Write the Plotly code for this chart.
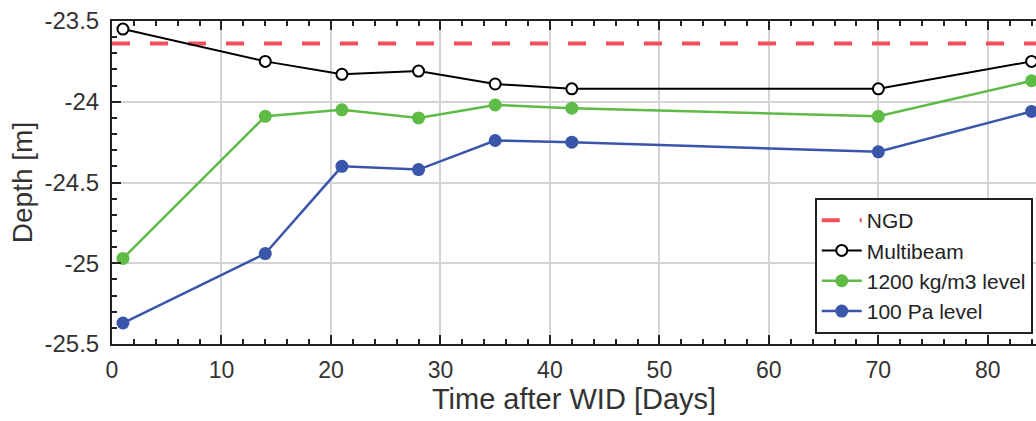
import plotly.graph_objects as go

days = [1, 14, 21, 28, 35, 42, 70, 84]
multibeam = [-23.55, -23.75, -23.83, -23.81, -23.89, -23.92, -23.92, -23.75]
level_1200 = [-24.97, -24.09, -24.05, -24.10, -24.02, -24.04, -24.09, -23.87]
level_100pa = [-25.37, -24.94, -24.40, -24.42, -24.24, -24.25, -24.31, -24.06]
ngd_depth = -23.64
x_range = [0, 84.4]
y_ticks = [-25.5, -25, -24.5, -24, -23.5]
y_tick_labels = ["-25.5", "-25", "-24.5", "-24", "-23.5"]

font_family = "Liberation Sans, Arial, sans-serif"

fig = go.Figure()
fig.add_trace(go.Scatter(
    x=x_range, y=[ngd_depth, ngd_depth], mode="lines", name="NGD",
    line=dict(color="#f0505a", width=4, dash="18px,20px"),
))
fig.add_trace(go.Scatter(
    x=days, y=multibeam, mode="lines+markers", name="Multibeam",
    line=dict(color="black", width=2),
    marker=dict(symbol="circle", size=11, color="white", line=dict(color="black", width=2)),
    cliponaxis=False,
))
fig.add_trace(go.Scatter(
    x=days, y=level_1200, mode="lines+markers", name="1200 kg/m3 level",
    line=dict(color="#5dbb46", width=2.5),
    marker=dict(symbol="circle", size=13, color="#5dbb46"),
    cliponaxis=False,
))
fig.add_trace(go.Scatter(
    x=days, y=level_100pa, mode="lines+markers", name="100 Pa level",
    line=dict(color="#3a56aa", width=2.5),
    marker=dict(symbol="circle", size=13, color="#3a56aa"),
    cliponaxis=False,
))

axis_common = dict(
    showline=True, linecolor="#222", linewidth=2,
    ticks="inside", ticklen=9, tickwidth=2, tickcolor="#222",
    showgrid=True, gridcolor="#d4d4d4", gridwidth=2,
    zeroline=False,
)

fig.update_layout(
    width=1036, height=421,
    margin=dict(l=112, r=0, t=21, b=77),
    paper_bgcolor="white", plot_bgcolor="white",
    font=dict(family=font_family, color="#333"),
    xaxis=dict(
        range=x_range, dtick=10, tick0=0, mirror="ticks",
        minor=dict(dtick=2, ticks="inside", ticklen=5, tickwidth=1.5, tickcolor="#222", showgrid=False),
        tickfont=dict(size=23, color="#333", family=font_family),
        ticklabelstandoff=4,
        title=dict(text="Time after WID [Days]", font=dict(size=29, color="#333"), standoff=4),
        **axis_common,
    ),
    yaxis=dict(
        range=[-25.5, -23.5], mirror=False,
        tickvals=y_ticks, ticktext=y_tick_labels,
        minor=dict(dtick=0.1, tick0=-25.5, ticks="inside", ticklen=5, tickwidth=1.5, tickcolor="#222", showgrid=False),
        tickfont=dict(size=24, color="#333", family=font_family),
        ticklabelstandoff=6,
        title=dict(text="Depth [m]", font=dict(size=28, color="#333"), standoff=4),
        **axis_common,
    ),
    legend=dict(
        x=0.9965, xanchor="right", y=0.031, yanchor="bottom",
        bgcolor="white", bordercolor="#222", borderwidth=2,
        font=dict(size=21, color="#222", family=font_family),
        tracegroupgap=0, itemwidth=40,
    ),
    showlegend=True,
)

fig.write_html(
    "out.html",
    config={"displayModeBar": False},
    post_script="document.body.style.margin='0px';",
)
